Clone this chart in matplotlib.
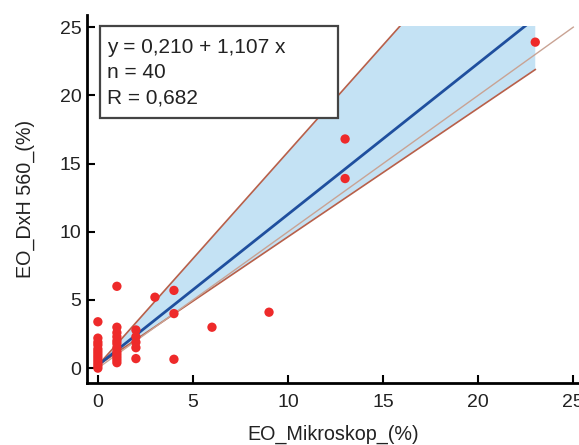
import numpy as np
import matplotlib
matplotlib.use("Agg")
import matplotlib.pyplot as plt
from matplotlib.patches import Rectangle

plt.rcParams['font.family'] = ['Liberation Sans', 'DejaVu Sans']

# measured values (microscope vs DxH 560)
x_mikro = [0, 0, 0, 0, 0, 0, 0, 0, 0, 0, 0, 0,
           1, 1, 1, 1, 1, 1, 1, 1, 1, 1, 1, 1,
           2, 2, 2, 2, 2,
           3, 4, 4, 4, 6, 9, 13, 13, 23]
y_dxh = [3.4, 2.2, 1.9, 1.7, 1.4, 1.2, 1.0, 0.8, 0.6, 0.4, 0.2, 0.0,
         6.0, 3.0, 2.6, 2.3, 2.0, 1.8, 1.5, 1.2, 1.0, 0.8, 0.6, 0.4,
         2.8, 2.3, 1.9, 1.5, 0.7,
         5.2, 5.7, 4.0, 0.65, 3.0, 4.1, 16.8, 13.9, 23.9]

# regression and confidence band
reg_intercept, reg_slope = 0.210, 1.107
band_low = (0.2, 0.943)
band_high = (0.2, 1.566)
x_max = 23
y_cap = 25.1

fig = plt.figure(figsize=(5.79, 4.45), dpi=100)
ax = fig.add_axes([0.150, 0.139, 0.850, 0.827])
ax.set_xlim(-0.58, 25.3)
ax.set_ylim(-1.1, 25.88)

clip = Rectangle((-0.58, -1.1), 30, y_cap + 1.1, transform=ax.transData,
                 facecolor='none', edgecolor='none')
ax.add_patch(clip)

xs = np.linspace(0, x_max, 200)
lo = band_low[0] + band_low[1] * xs
hi = band_high[0] + band_high[1] * xs
band = ax.fill_between(xs, lo, hi, color='#c4e2f4', lw=0, zorder=1)
band.set_clip_path(clip)

l1, = ax.plot(xs, hi, color='#b8604a', lw=1.2, zorder=2)
l2, = ax.plot(xs, lo, color='#b8604a', lw=1.2, zorder=2)
xi = np.linspace(0, 25, 50)
l3, = ax.plot(xi, xi, color='#c9a394', lw=1.0, zorder=2)
l4, = ax.plot(xs, reg_intercept + reg_slope * xs, color='#1f4f9e', lw=2.0, zorder=3)
for ln in (l1, l2, l3, l4):
    ln.set_clip_path(clip)

ax.scatter(x_mikro, y_dxh, s=45, color='#ee2a2a', edgecolors='none', zorder=4)

ax.set_xticks([0, 5, 10, 15, 20, 25])
ax.set_yticks([0, 5, 10, 15, 20, 25])
ax.tick_params(direction='in', length=6, width=1.5, labelsize=14, labelcolor='#222222')
ax.tick_params(axis='x', pad=8)
ax.tick_params(axis='y', pad=4)
for s in ('top', 'right'):
    ax.spines[s].set_visible(False)
for s in ('left', 'bottom'):
    ax.spines[s].set_linewidth(2)

ax.set_xlabel('EO_Mikroskop_(%)', fontsize=14.2, labelpad=10, color='#222222')
ax.set_ylabel('EO_DxH 560_(%)', fontsize=14.2, labelpad=18, color='#222222')

# statistics box
box = Rectangle((0.0264, 0.720), 0.484, 0.250, transform=ax.transAxes,
                facecolor='white', edgecolor='#444444', lw=1.6, zorder=5)
ax.add_patch(box)
ax.text(0.0407, 0.937, 'y = 0,210 + 1,107 x\nn = 40\nR = 0,682', transform=ax.transAxes,
        ha='left', va='top', fontsize=15, linespacing=1.4, color='#222222', zorder=6)

fig.savefig('out.png', dpi=100)
